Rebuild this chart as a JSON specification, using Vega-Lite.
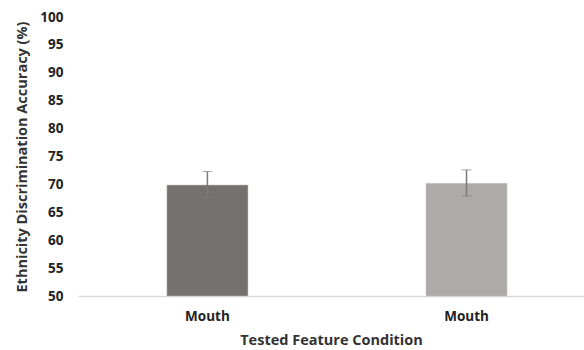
{
  "$schema": "https://vega.github.io/schema/vega-lite/v6.json",
  "width": 506,
  "height": 279,
  "autosize": {"type": "none"},
  "padding": {"left": 78, "top": 17, "right": 0, "bottom": 54},
  "background": "white",
  "config": {
    "view": {"stroke": null},
    "font": "Open Sans",
    "axis": {"grid": false, "labelFont": "Open Sans", "titleFont": "Open Sans", "labelFontWeight": "bold", "titleFontWeight": "bold", "labelColor": "#222222", "titleColor": "#333333"}
  },
  "data": {
    "values": [
      {"id": "A", "label": "Mouth", "mean": 69.9, "lo": 67.6, "hi": 72.3},
      {"id": "B", "label": "Mouth", "mean": 70.2, "lo": 67.9, "hi": 72.6}
    ]
  },
  "encoding": {
    "x": {
      "field": "id",
      "type": "nominal",
      "scale": {"paddingInner": 0.687, "paddingOuter": 0.32, "align": 0.536},
      "axis": {
        "title": "Tested Feature Condition",
        "labelExpr": "'Mouth'",
        "labelAngle": 0,
        "labelFontSize": 13.5,
        "titleFontSize": 14.5,
        "ticks": false,
        "labelPadding": 13,
        "titlePadding": 11,
        "domainColor": "#d9d9d9",
        "domainWidth": 1.5
      }
    }
  },
  "layer": [
    {
      "mark": {"type": "bar", "stroke": "#c8c6c6", "strokeWidth": 0.5},
      "encoding": {
        "y": {
          "field": "mean",
          "type": "quantitative",
          "scale": {"domain": [50, 100], "nice": false, "zero": false},
          "axis": {
            "title": "Ethnicity Discrimination Accuracy (%)",
            "values": [50, 55, 60, 65, 70, 75, 80, 85, 90, 95, 100],
            "domain": false,
            "ticks": false,
            "labelFontSize": 13.5,
            "titleFontSize": 14.5,
            "labelPadding": 15,
            "titlePadding": 10
          }
        },
        "y2": {"datum": 50},
        "color": {
          "field": "id",
          "type": "nominal",
          "scale": {"domain": ["A", "B"], "range": ["#767171", "#aeaaaa"]},
          "legend": null
        }
      }
    },
    {
      "mark": {"type": "errorbar", "ticks": {"size": 10, "color": "#7a7a7a", "strokeWidth": 1.5}, "rule": {"color": "#7a7a7a", "strokeWidth": 1.5}},
      "encoding": {
        "y": {
          "field": "lo",
          "type": "quantitative",
          "scale": {"domain": [50, 100], "nice": false, "zero": false},
          "axis": {
            "title": "Ethnicity Discrimination Accuracy (%)",
            "values": [50, 55, 60, 65, 70, 75, 80, 85, 90, 95, 100],
            "domain": false,
            "ticks": false,
            "labelFontSize": 13.5,
            "titleFontSize": 14.5,
            "labelPadding": 15,
            "titlePadding": 10
          }
        },
        "y2": {"field": "hi"}
      }
    }
  ]
}
